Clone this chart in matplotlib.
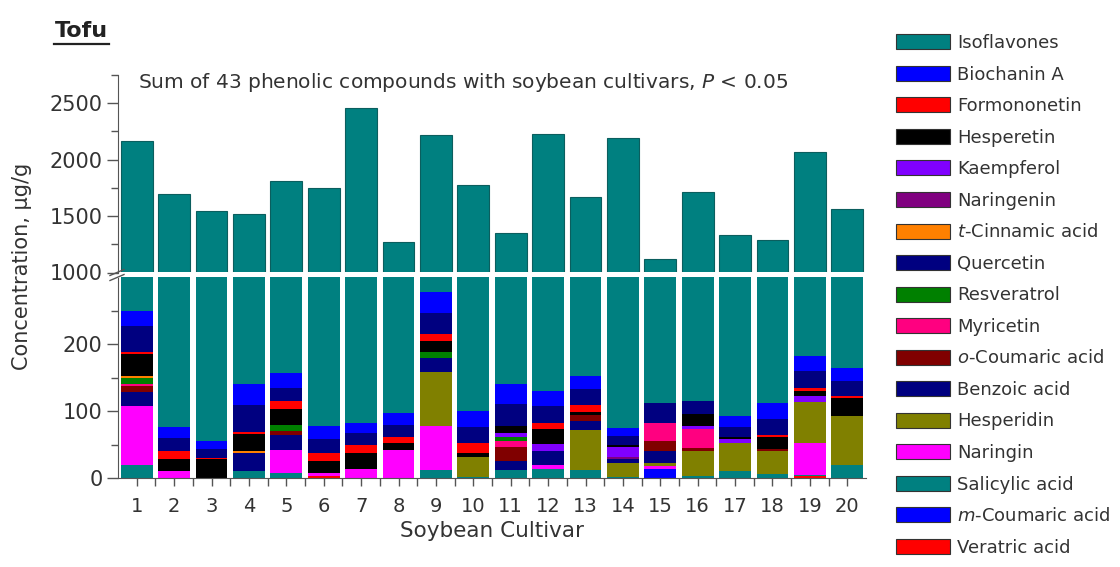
import numpy as np
import matplotlib
matplotlib.use("Agg")
import matplotlib.pyplot as plt
import matplotlib.patches as mpatches
from matplotlib.lines import Line2D

plt.rcParams['font.family'] = ['DejaVu Sans']
plt.rcParams['mathtext.fontset'] = 'dejavusans'

# cultivars 1..20
cultivars = np.arange(1, 21)

# sum of all 43 compounds (top of each bar), ug/g
total_sum = np.array([2165, 1695, 1545, 1515, 1810, 1750, 2460, 1270, 2215, 1775,
                      1350, 2230, 1665, 2195, 1120, 1710, 1335, 1285, 2065, 1565])

veratric     = [0, 0, 0, 0, 0, 3, 0, 0, 0, 0, 0, 0, 0, 0, 0, 0, 0, 0, 3, 0]
m_coumaric   = [0, 0, 0, 0, 0, 0, 0, 0, 0, 0, 0, 0, 0, 0, 14, 0, 0, 0, 0, 0]
salicylic    = [20, 0, 0, 10, 8, 0, 0, 0, 12, 2, 12, 14, 12, 2, 0, 3, 10, 6, 1, 20]
naringin     = [88, 10, 0, 0, 34, 5, 14, 42, 66, 0, 0, 5, 0, 0, 4, 0, 0, 0, 48, 0]
hesperidin   = [0, 0, 0, 0, 0, 0, 0, 0, 80, 30, 0, 0, 60, 20, 4, 38, 42, 34, 61, 73]
benzoic      = [20, 0, 0, 27, 23, 0, 0, 0, 22, 0, 14, 22, 14, 6, 18, 0, 0, 0, 0, 0]
o_coumaric   = [10, 0, 0, 0, 5, 0, 0, 0, 0, 0, 20, 0, 8, 0, 16, 4, 0, 4, 0, 0]
myricetin    = [2, 0, 0, 0, 0, 0, 0, 0, 0, 0, 10, 0, 0, 0, 26, 28, 0, 0, 0, 0]
resveratrol  = [10, 0, 0, 0, 9, 0, 0, 0, 8, 0, 6, 0, 0, 0, 0, 0, 0, 0, 0, 0]
t_cinnamic   = [3, 0, 0, 4, 0, 0, 0, 0, 0, 0, 0, 0, 0, 0, 0, 0, 0, 0, 0, 0]
naringenin   = [0, 0, 0, 0, 0, 0, 0, 0, 0, 0, 0, 0, 0, 4, 0, 0, 0, 0, 0, 0]
kaempferol   = [0, 0, 0, 0, 0, 0, 0, 0, 0, 0, 6, 10, 0, 14, 0, 5, 6, 0, 9, 0]
hesperetin   = [32, 18, 28, 25, 24, 17, 24, 10, 17, 6, 10, 22, 5, 4, 0, 18, 3, 18, 8, 26]
formononetin = [3, 12, 2, 3, 12, 13, 12, 10, 10, 14, 0, 10, 10, 0, 0, 0, 0, 2, 5, 4]
quercetin    = [40, 20, 14, 40, 20, 20, 18, 18, 32, 25, 32, 25, 24, 13, 30, 19, 16, 24, 25, 22]
biochanin_a  = [22, 16, 12, 31, 22, 20, 15, 17, 31, 23, 30, 22, 20, 12, 0, 0, 16, 24, 22, 20]

C = {
    "Isoflavones": "#008080", "Biochanin A": "#0000ff", "Formononetin": "#ff0000",
    "Hesperetin": "#000000", "Kaempferol": "#8000ff", "Naringenin": "#800080",
    "t-Cinnamic acid": "#ff8000", "Quercetin": "#000080", "Resveratrol": "#008000",
    "Myricetin": "#ff0080", "o-Coumaric acid": "#800000", "Benzoic acid": "#000080",
    "Hesperidin": "#808000", "Naringin": "#ff00ff", "Salicylic acid": "#008080",
    "m-Coumaric acid": "#0000ff", "Veratric acid": "#ff0000",
}

# stack order, bottom -> top
stack = [
    ("Veratric acid", veratric), ("m-Coumaric acid", m_coumaric),
    ("Salicylic acid", salicylic), ("Naringin", naringin),
    ("Hesperidin", hesperidin), ("Benzoic acid", benzoic),
    ("o-Coumaric acid", o_coumaric), ("Myricetin", myricetin),
    ("Resveratrol", resveratrol), ("t-Cinnamic acid", t_cinnamic),
    ("Naringenin", naringenin), ("Kaempferol", kaempferol),
    ("Hesperetin", hesperetin), ("Formononetin", formononetin),
    ("Quercetin", quercetin), ("Biochanin A", biochanin_a),
]
others = np.array([v for _, v in stack], dtype=float)
isoflavones = total_sum - others.sum(axis=0)
stack.append(("Isoflavones", isoflavones))

# legend order as in the figure
legend_names = ["Isoflavones", "Biochanin A", "Formononetin", "Hesperetin", "Kaempferol",
                "Naringenin", "t-Cinnamic acid", "Quercetin", "Resveratrol", "Myricetin",
                "o-Coumaric acid", "Benzoic acid", "Hesperidin", "Naringin",
                "Salicylic acid", "m-Coumaric acid", "Veratric acid"]
legend_text = {"t-Cinnamic acid": r"$\it{t}$-Cinnamic acid",
               "o-Coumaric acid": r"$\it{o}$-Coumaric acid",
               "m-Coumaric acid": r"$\it{m}$-Coumaric acid"}

W, H = 1120, 567
fig = plt.figure(figsize=(W / 100, H / 100), dpi=100)
ax_top = fig.add_axes([118 / W, 1 - 272.5 / H, 748 / W, (272.5 - 75) / H])
ax_bot = fig.add_axes([118 / W, 1 - 478 / H, 748 / W, (478 - 277.5) / H])

bw = 0.85
for ax in (ax_top, ax_bot):
    bottom = np.zeros(len(cultivars))
    for name, vals in stack:
        vals = np.asarray(vals, dtype=float)
        if name == "Isoflavones" and ax is ax_top:
            ax.bar(cultivars, vals, bw, bottom=bottom, color=C[name],
                   edgecolor="#0b5e5e", linewidth=0.8)
        else:
            ax.bar(cultivars, vals, bw, bottom=bottom, color=C[name], linewidth=0)
        bottom += vals
    ax.set_xlim(0.5, 20.5)
    for s in ("top", "right"):
        ax.spines[s].set_visible(False)
    ax.spines["left"].set_color("#555555")
    ax.tick_params(axis="y", which="major", length=8, width=1, color="#555555",
                   labelsize=15, labelcolor="#333333", pad=3)
    ax.tick_params(axis="y", which="minor", length=5, width=1, color="#555555")

# upper panel
ax_top.set_ylim(1000, 2750)
ax_top.set_yticks([1000, 1500, 2000, 2500])
ax_top.set_yticks([1250, 1750, 2250, 2750], minor=True)
ax_top.spines["bottom"].set_visible(False)
ax_top.set_xticks([])

# lower panel
ax_bot.set_ylim(0, 300)
ax_bot.set_yticks([0, 100, 200])
ax_bot.set_yticks([50, 150, 250], minor=True)
ax_bot.spines["bottom"].set_color("#555555")
ax_bot.set_xticks(cultivars)
ax_bot.set_xticks(np.arange(1.5, 20.5, 1), minor=True)
ax_bot.tick_params(axis="x", which="both", length=6, width=1, color="#555555",
                   labelsize=14, labelcolor="#333333", pad=8)
ax_bot.set_xlabel("Soybean Cultivar", fontsize=15.5, color="#333333", labelpad=3)

# axis break marks
for yy in (272.5, 277.5):
    fig.add_artist(Line2D([110 / W, 124 / W], [1 - (yy + 3) / H, 1 - (yy - 3) / H],
                          color="#555555", lw=1))

fig.text(22 / W, 1 - 266 / H, "Concentration, \u00b5g/g", rotation=90,
         ha="center", va="center", fontsize=15, color="#333333")
fig.text(138 / W, 1 - 82 / H,
         r"Sum of 43 phenolic compounds with soybean cultivars, $\it{P}$ < 0.05",
         ha="left", va="center", fontsize=14.5, color="#333333")
fig.text(55 / W, 1 - 31 / H, "Tofu", ha="left", va="center", fontsize=16,
         fontweight="bold", color="#222222")
fig.add_artist(Line2D([54 / W, 109 / W], [1 - 44 / H, 1 - 44 / H], color="#222222", lw=1.6))

handles = [mpatches.Patch(facecolor=C[n], edgecolor="#333333", lw=0.8) for n in legend_names]
labels = [legend_text.get(n, n) for n in legend_names]
fig.legend(handles, labels, loc="upper left", bbox_to_anchor=(896 / W, 1 - 34 / H),
           frameon=False, fontsize=13, handlelength=3.0, handleheight=0.9,
           labelspacing=0.75, handletextpad=0.4, borderpad=0, borderaxespad=0,
           labelcolor="#333333")

fig.savefig("out.png", dpi=100)
